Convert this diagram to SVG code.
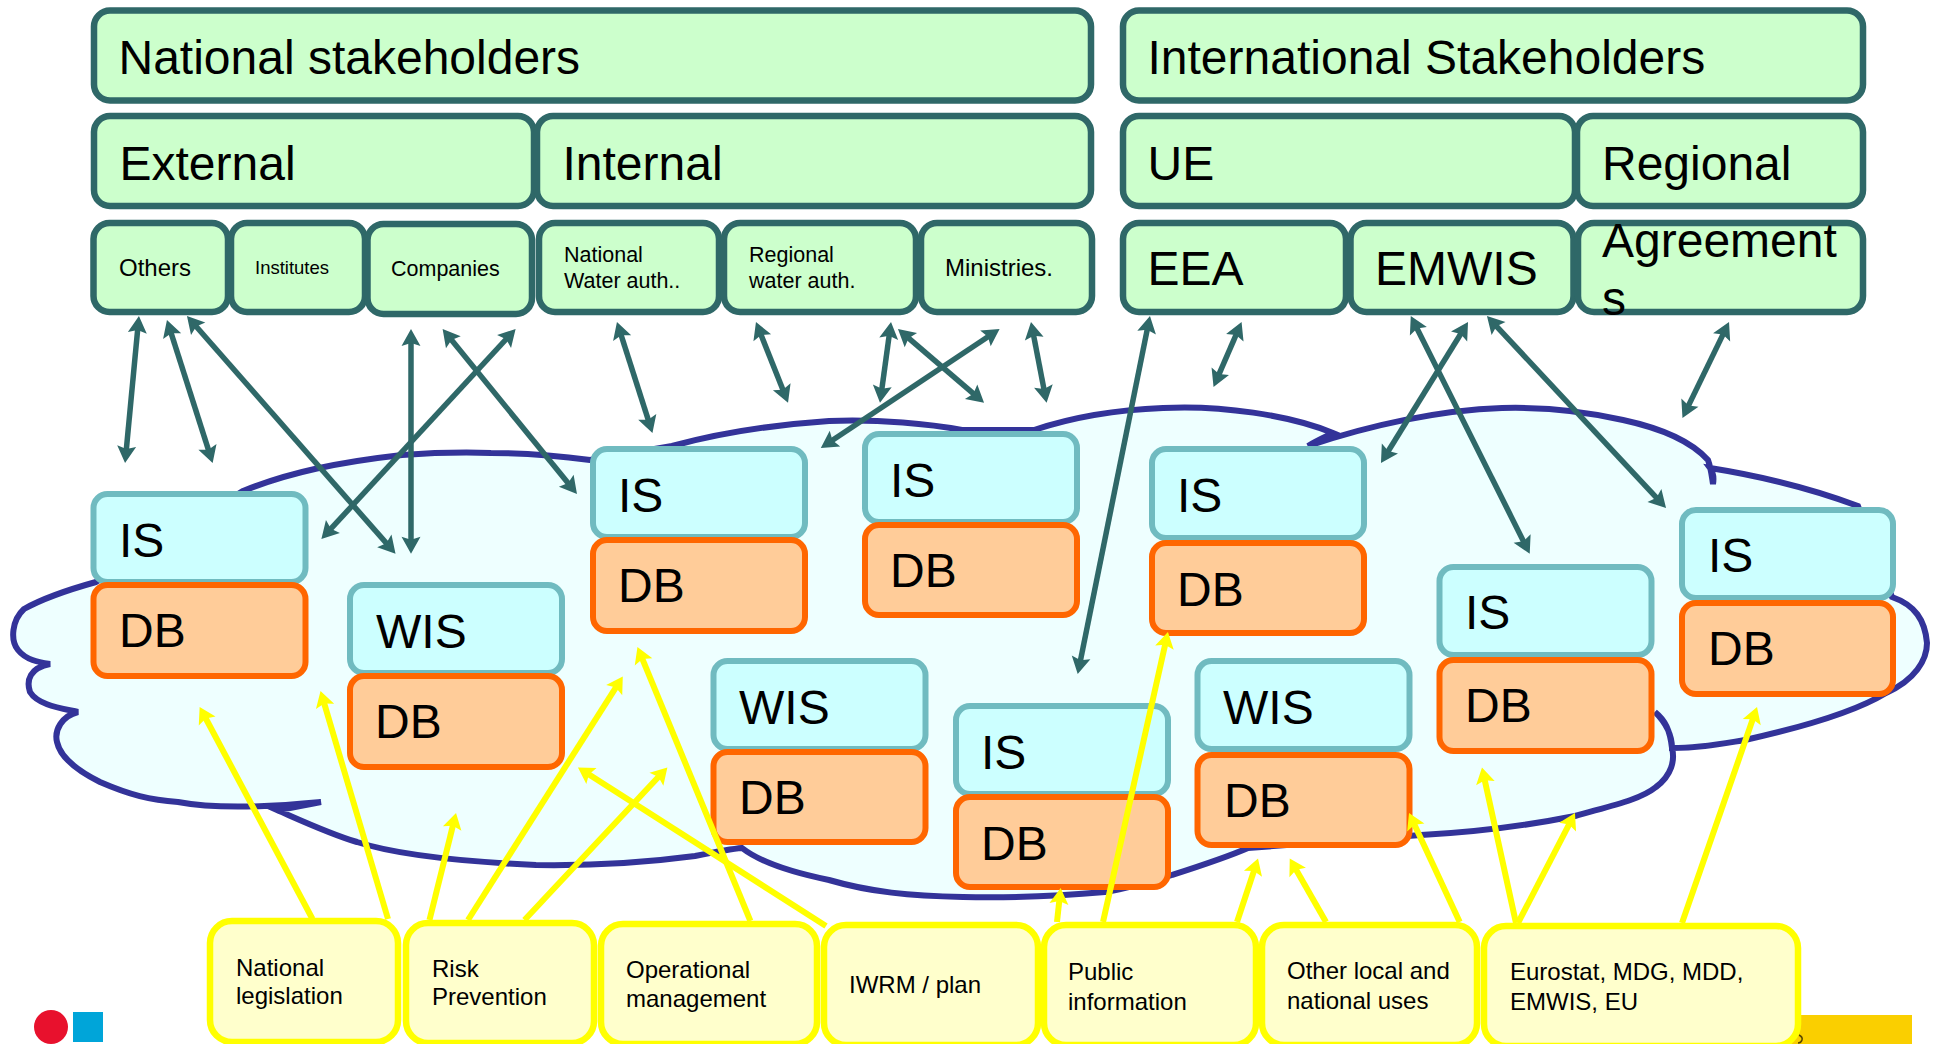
<svg xmlns="http://www.w3.org/2000/svg" width="1934" height="1044" viewBox="0 0 1934 1044">
<style>
text{font-family:"Liberation Sans",Arial,sans-serif;fill:#000}
.g{fill:#CCFFCC;stroke:#2F6868;stroke-width:6.5}
.i{fill:#CCFFFF;stroke:#70BBC0;stroke-width:6}
.d{fill:#FFCC99;stroke:#FF6600;stroke-width:6}
.y{fill:#FFFFCC;stroke:#FFFF00;stroke-width:6.5}
.t48{font-size:48px}.t24{font-size:24px}.t21{font-size:21.5px}.t18{font-size:18.5px}
.ct{stroke:#2F6868;stroke-width:5.500;fill:none;marker-start:url(#ht);marker-end:url(#ht)}
.cy{stroke:#FFFF00;stroke-width:6;fill:none;marker-end:url(#hy)}
</style>
<defs>
<marker id="ht" markerUnits="userSpaceOnUse" markerWidth="40" markerHeight="40" refX="0" refY="0" viewBox="-20 -20 40 40" orient="auto-start-reverse" overflow="visible"><path d="M9,0L-8,-9.500L-5,0L-8,9.500Z" fill="#2F6868"/></marker>
<marker id="hy" markerUnits="userSpaceOnUse" markerWidth="40" markerHeight="40" refX="0" refY="0" viewBox="-20 -20 40 40" orient="auto" overflow="visible"><path d="M8,0L-8,-9.500L-5,0L-8,9.500Z" fill="#FFFF00"/></marker>
</defs>
<rect width="1934" height="1044" fill="#fff"/>
<g id="cloud"><path d="M96,582 C60,592 40,600 24,609 C12,620 10,640 18,650 C26,660 38,662 50,664 C30,668 26,680 30,692 C38,705 60,708 78,712 C62,716 54,730 57,742 C60,756 76,770 100,782 C130,795 150,800 178,802 C220,810 280,806 321,802 C300,806 290,808 277,810 C300,820 330,834 357,842 C400,856 470,862 536,865 C600,866 650,862 695,856 C715,852 730,849 742,848 C760,862 790,872 829,880 C870,892 910,896 963,897 C1010,898 1060,896 1105,892 C1130,888 1150,882 1172,875 C1200,866 1225,858 1248,848 L1421,835 C1480,832 1530,825 1575,816 C1610,806 1640,800 1656,787 C1672,775 1675,760 1672,748 C1670,730 1665,720 1655,712 C1665,722 1672,735 1672,748 C1700,748 1720,744 1745,740 C1790,730 1850,715 1886,693 C1915,680 1927,660 1927,643 C1925,620 1915,605 1892,597 L1858,506 C1810,488 1760,476 1710,468 C1713,472 1714,478 1713,484 C1712,478 1711,468 1708,460 C1690,440 1660,428 1623,420 C1580,410 1540,407 1502,408 C1440,410 1370,425 1308,446 C1316,441 1325,437 1333,433 C1290,415 1220,405 1163,408 C1110,410 1070,418 1034,430 L962,430 C930,424 880,419 829,421 C770,425 720,433 672,446 L590,460 C560,456 530,453 491,453 C460,452 430,453 402,455 C340,462 290,472 243,491 Z" fill="#EEFFFF" stroke="#333399" stroke-width="6" stroke-linejoin="miter"/></g>
<g id="logos"><circle cx="51" cy="1027" r="17" fill="#E8112D"/><rect x="73" y="1012" width="30" height="30" fill="#00A5D9"/><rect x="1790" y="1015" width="122" height="29" fill="#FACF00"/><path d="M1799,1035 q4,2 3,5 q-1,3 -4,3" fill="none" stroke="#554400" stroke-width="1.500"/></g>
<g id="n-national"><rect class="g" x="94" y="10.500" width="997" height="90" rx="16"/><text class="t48" x="118.500" y="74">National stakeholders</text></g>
<g id="n-international"><rect class="g" x="1123" y="10.500" width="740" height="90" rx="16"/><text class="t48" x="1147.500" y="74">International Stakeholders</text></g>
<g id="n-external"><rect class="g" x="94" y="116" width="440" height="90" rx="16"/><text class="t48" x="119.500" y="180">External</text></g>
<g id="n-internal"><rect class="g" x="537" y="116" width="554" height="90" rx="16"/><text class="t48" x="562.500" y="180">Internal</text></g>
<g id="n-ue"><rect class="g" x="1123" y="116" width="452" height="90" rx="16"/><text class="t48" x="1147.500" y="180">UE</text></g>
<g id="n-regional"><rect class="g" x="1577" y="116" width="286" height="90" rx="16"/><text class="t48" x="1602" y="180">Regional</text></g>
<g id="n-others"><rect class="g" x="93.500" y="223" width="134.500" height="89" rx="16"/><text class="t24" x="119" y="276">Others</text></g>
<g id="n-institutes"><rect class="g" x="231" y="223" width="134" height="89" rx="16"/><text class="t18" x="255" y="274">Institutes</text></g>
<g id="n-companies"><rect class="g" x="367.500" y="224" width="164.500" height="90" rx="16"/><text class="t21" x="391" y="276">Companies</text></g>
<g id="n-natwater"><rect class="g" x="539" y="223" width="180" height="89" rx="16"/><text class="t21" x="564" y="262">National</text><text class="t21" x="564" y="288">Water auth..</text></g>
<g id="n-regwater"><rect class="g" x="724" y="223" width="192" height="89" rx="16"/><text class="t21" x="749" y="262">Regional</text><text class="t21" x="749" y="288">water auth.</text></g>
<g id="n-ministries"><rect class="g" x="921" y="223" width="171" height="89" rx="16"/><text class="t24" x="945" y="276">Ministries.</text></g>
<g id="n-eea"><rect class="g" x="1123" y="223" width="223" height="89" rx="16"/><text class="t48" x="1147.500" y="285">EEA</text></g>
<g id="n-emwis"><rect class="g" x="1350.500" y="223" width="223" height="89" rx="16"/><text class="t48" x="1375" y="285">EMWIS</text></g>
<g id="n-agreements"><rect class="g" x="1578" y="223" width="285" height="89" rx="16"/><text class="t48" x="1602" y="257">Agreement</text><text class="t48" x="1602" y="315">s</text></g>
<g id="n-is1"><rect class="i" x="93.500" y="494" width="212" height="88" rx="14"/><text class="t48" x="119" y="557">IS</text><rect class="d" x="93.500" y="585" width="212" height="91" rx="14"/><text class="t48" x="119" y="647">DB</text></g>
<g id="n-wis1"><rect class="i" x="350" y="585" width="212" height="88" rx="14"/><text class="t48" x="376" y="648">WIS</text><rect class="d" x="350" y="676" width="212" height="91" rx="14"/><text class="t48" x="375" y="738">DB</text></g>
<g id="n-is2"><rect class="i" x="593" y="449" width="212" height="88" rx="14"/><text class="t48" x="618" y="512">IS</text><rect class="d" x="593" y="540" width="212" height="91" rx="14"/><text class="t48" x="618" y="602">DB</text></g>
<g id="n-is3"><rect class="i" x="865" y="434" width="212" height="88" rx="14"/><text class="t48" x="890" y="497">IS</text><rect class="d" x="865" y="525" width="212" height="90" rx="14"/><text class="t48" x="890" y="587">DB</text></g>
<g id="n-wis2"><rect class="i" x="713.500" y="661" width="212" height="88" rx="14"/><text class="t48" x="739" y="724">WIS</text><rect class="d" x="713.500" y="752" width="212" height="90" rx="14"/><text class="t48" x="739" y="814">DB</text></g>
<g id="n-is4"><rect class="i" x="956" y="706" width="212" height="88" rx="14"/><text class="t48" x="981" y="769">IS</text><rect class="d" x="956" y="797" width="212" height="90" rx="14"/><text class="t48" x="981" y="860">DB</text></g>
<g id="n-is5"><rect class="i" x="1152" y="449" width="212" height="89" rx="14"/><text class="t48" x="1177" y="512">IS</text><rect class="d" x="1152" y="543" width="212" height="90" rx="14"/><text class="t48" x="1177" y="606">DB</text></g>
<g id="n-wis3"><rect class="i" x="1197.500" y="661" width="212" height="88" rx="14"/><text class="t48" x="1223" y="724">WIS</text><rect class="d" x="1197.500" y="755" width="212" height="90" rx="14"/><text class="t48" x="1224" y="817">DB</text></g>
<g id="n-is6"><rect class="i" x="1439.500" y="567" width="212" height="88" rx="14"/><text class="t48" x="1465" y="629">IS</text><rect class="d" x="1439.500" y="660" width="212" height="91" rx="14"/><text class="t48" x="1465" y="722">DB</text></g>
<g id="n-is7"><rect class="i" x="1682" y="510" width="211" height="88" rx="14"/><text class="t48" x="1708" y="572">IS</text><rect class="d" x="1682" y="603" width="211" height="91" rx="14"/><text class="t48" x="1708" y="665">DB</text></g>
<g id="n-legislation"><rect class="y" x="210" y="921" width="188" height="121" rx="22"/><text class="t24" x="236" y="976">National</text><text class="t24" x="236" y="1004">legislation</text></g>
<g id="n-risk"><rect class="y" x="406" y="923" width="188" height="120" rx="22"/><text class="t24" x="432" y="977">Risk</text><text class="t24" x="432" y="1005">Prevention</text></g>
<g id="n-operational"><rect class="y" x="601" y="924" width="216" height="120" rx="22"/><text class="t24" x="626" y="978">Operational</text><text class="t24" x="626" y="1007">management</text></g>
<g id="n-iwrm"><rect class="y" x="824" y="925" width="214" height="120" rx="22"/><text class="t24" x="849" y="993">IWRM / plan</text></g>
<g id="n-public"><rect class="y" x="1044" y="925" width="212" height="120" rx="22"/><text class="t24" x="1068" y="980">Public</text><text class="t24" x="1068" y="1010">information</text></g>
<g id="n-other"><rect class="y" x="1262" y="925" width="215" height="120" rx="22"/><text class="t24" x="1287" y="979">Other local and</text><text class="t24" x="1287" y="1009">national uses</text></g>
<g id="n-eurostat"><rect class="y" x="1484" y="926" width="314" height="120" rx="22"/><text class="t24" x="1510" y="980">Eurostat, MDG, MDD,</text><text class="t24" x="1510" y="1010">EMWIS, EU</text></g>
<g id="connectors">
<path class="ct" d="M138.100,325L125.900,454"/>
<path class="ct" d="M169.700,328.600L209.900,454.400"/>
<path class="ct" d="M192.900,322.800L389.600,546.900"/>
<path class="ct" d="M411,338L411,544.700"/>
<path class="ct" d="M509.500,335.600L327.500,532.400"/>
<path class="ct" d="M448.300,336L571.300,487"/>
<path class="ct" d="M619.700,330.600L649.700,424.400"/>
<path class="ct" d="M759.300,330.400L784.700,394.300"/>
<path class="ct" d="M889.800,330.900L881.200,393.800"/>
<path class="ct" d="M904.800,334.900L977.200,396.900"/>
<path class="ct" d="M992.100,334L828.300,443"/>
<path class="ct" d="M1032.700,330.800L1044.900,393.900"/>
<path class="ct" d="M1148.200,324.800L1079.500,665.200"/>
<path class="ct" d="M1238,330.300L1217.100,378.700"/>
<path class="ct" d="M1463.300,329.700L1385.700,455.300"/>
<path class="ct" d="M1414.800,324L1525.700,545.700"/>
<path class="ct" d="M1493.100,322.600L1659.900,501.400"/>
<path class="ct" d="M1725.100,330.100L1686.400,409.900"/>
<path class="cy" d="M312.500,919L203.400,714"/>
<path class="cy" d="M388,919L322.800,698.700"/>
<path class="cy" d="M429.500,920L454.100,820.800"/>
<path class="cy" d="M468,920L618.500,683.300"/>
<path class="cy" d="M524.500,920L661.900,773.300"/>
<path class="cy" d="M750.400,921L640.500,654.400"/>
<path class="cy" d="M826,926L584.700,771.800"/>
<path class="cy" d="M1057,922L1059.800,896"/>
<path class="cy" d="M1103,922L1166.200,639.800"/>
<path class="cy" d="M1237,922L1255.500,866.200"/>
<path class="cy" d="M1326,922L1293.700,865.500"/>
<path class="cy" d="M1459.700,922L1412.400,820.300"/>
<path class="cy" d="M1516,923L1483.700,775.300"/>
<path class="cy" d="M1518,923L1571.300,820.100"/>
<path class="cy" d="M1682,923L1754.400,714.600"/>
</g>
</svg>
